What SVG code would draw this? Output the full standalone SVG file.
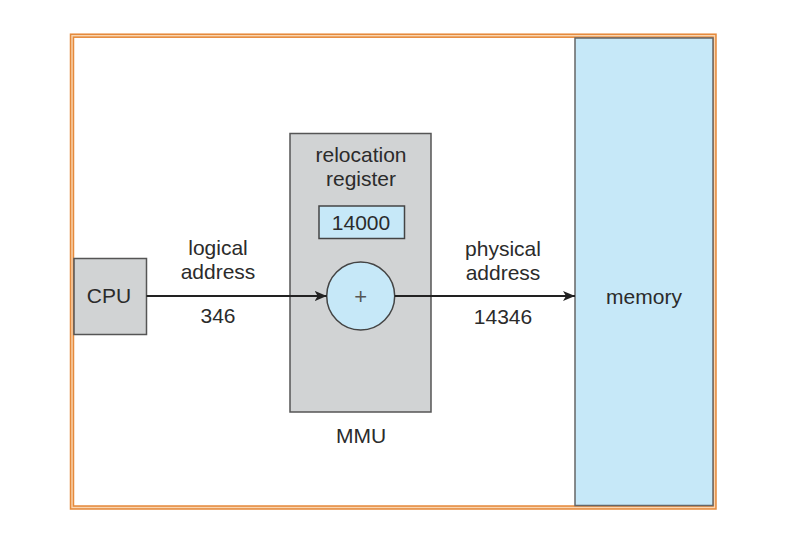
<svg xmlns="http://www.w3.org/2000/svg" width="799" height="542" viewBox="0 0 799 542">
<defs>
<style>
.t{font-family:"Liberation Sans",Arial,sans-serif;font-size:21px;fill:#2b2b2b;text-anchor:middle}
.gray{fill:#d1d3d4;stroke:#555;stroke-width:1.5}
.blue{fill:#c6e8f8;stroke:#444;stroke-width:1.5}
.conn{stroke:#222;stroke-width:2;fill:none}
</style>
<marker id="ah" viewBox="0 0 12 10" refX="12" refY="5" markerWidth="12" markerHeight="10" markerUnits="userSpaceOnUse" orient="auto">
<path d="M0,0 L12,5 L0,10 L3,5 Z" fill="#222"/>
</marker>
</defs>
<rect width="799" height="542" fill="#fff"/>
<g id="frame">
<rect x="72" y="35.7" width="642.5" height="471.8" fill="none" stroke="#e58a3c" stroke-width="4.5"/>
<rect x="72" y="35.7" width="642.5" height="471.8" fill="none" stroke="#f9d6b2" stroke-width="1.4"/>
</g>
<g id="memory">
<rect x="575" y="38" width="138" height="467.5" class="blue" style="stroke:#666"/>
<text x="644" y="304" class="t">memory</text>
</g>
<g id="cpu">
<rect x="74" y="258.5" width="72.5" height="76" class="gray"/>
<text x="109" y="303" class="t">CPU</text>
</g>
<g id="mmu">
<rect x="290" y="133.5" width="141" height="278.5" class="gray"/>
<text x="361" y="162" class="t">relocation</text>
<text x="361" y="186" class="t">register</text>
<text x="361" y="443" class="t">MMU</text>
</g>
<g id="register">
<rect x="319" y="206" width="85.5" height="32.5" class="blue"/>
<text x="361" y="230" class="t">14000</text>
</g>
<g id="adder">
<circle cx="360.7" cy="296" r="34" class="blue"/>
<text x="360.7" y="303.5" class="t" style="font-size:22px;fill:#555">+</text>
</g>
<g id="connectors">
<line x1="146.5" y1="296" x2="326.7" y2="296" class="conn" marker-end="url(#ah)"/>
<line x1="394.7" y1="296" x2="575" y2="296" class="conn" marker-end="url(#ah)"/>
</g>
<g id="labels">
<text x="218" y="255" class="t">logical</text>
<text x="218" y="279" class="t">address</text>
<text x="218" y="323" class="t">346</text>
<text x="503" y="256" class="t">physical</text>
<text x="503" y="280" class="t">address</text>
<text x="503" y="324" class="t">14346</text>
</g>
</svg>
